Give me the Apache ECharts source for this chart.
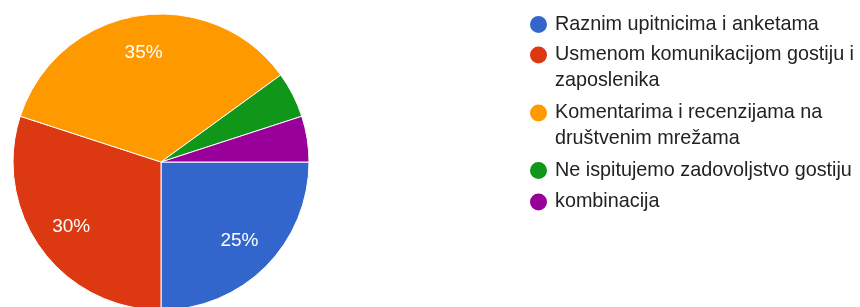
<!DOCTYPE html>
<html>
<head>
<meta charset="utf-8">
<script src="https://cdn.jsdelivr.net/npm/echarts@6/dist/echarts.min.js"></script>
<style>
  html, body { margin: 0; padding: 0; background: #fff; }
  #chart { width: 860px; height: 307px; }
</style>
</head>
<body>
<div id="chart"></div>
<script>
// answers, in drawing order (clockwise from 3 o'clock)
const categories = [
  'Raznim upitnicima i anketama',
  'Usmenom komunikacijom gostiju i zaposlenika',
  'Komentarima i recenzijama na društvenim mrežama',
  'Ne ispitujemo zadovoljstvo gostiju',
  'kombinacija'
]
const shares = [25, 30, 35, 5, 5]
const colors = ['#3366cc', '#dc3912', '#ff9900', '#109618', '#990099']

// legend layout: top of each entry's dot and how many text lines it takes
const legendTop = [14, 44.5, 102.5, 160, 191.5]
const legendLines = [1, 2, 2, 1, 1]
const lineH = 26
const font = 'Liberation Sans'

const pieData = categories.map((name, i) => ({ name: name, value: shares[i] }))

const chart = echarts.init(document.getElementById('chart'), null, { renderer: 'canvas' })

// one legend per entry so the wrapped ones can keep the dot on their first line
const legends = categories.map((name, i) => ({
  data: [name],
  left: 528,
  top: legendTop[i],
  padding: 0,
  icon: 'circle',
  itemWidth: 19,
  itemHeight: 19,
  selectedMode: false,
  formatter: '{t|{name}}',
  textStyle: {
    width: 310,
    overflow: 'break',
    padding: [lineH * (legendLines[i] - 1), 0, 0, 2],
    rich: {
      t: { fontFamily: font, fontSize: 19.8, color: '#222', lineHeight: lineH }
    }
  }
}))

chart.setOption({
  backgroundColor: '#fff',
  animation: false,
  color: colors,
  legend: legends,
  series: [
    {
      // the slices
      type: 'pie',
      center: [161, 162],
      radius: [0, 148],
      startAngle: 0,
      clockwise: true,
      silent: true,
      label: { show: false },
      labelLine: { show: false },
      itemStyle: { borderColor: '#fff', borderWidth: 1 },
      data: pieData
    },
    {
      // transparent ring, only used to place percent labels further out
      type: 'pie',
      center: [161, 162],
      radius: [68, 148],
      startAngle: 0,
      clockwise: true,
      silent: true,
      itemStyle: { color: 'rgba(0,0,0,0)', borderWidth: 0 },
      labelLine: { show: false },
      label: {
        show: true,
        position: 'inside',
        color: '#fff',
        fontFamily: font,
        fontSize: 19,
        formatter: p => (p.value >= 10 ? p.value + '%' : '')
      },
      data: pieData
    }
  ]
})
</script>
</body>
</html>
